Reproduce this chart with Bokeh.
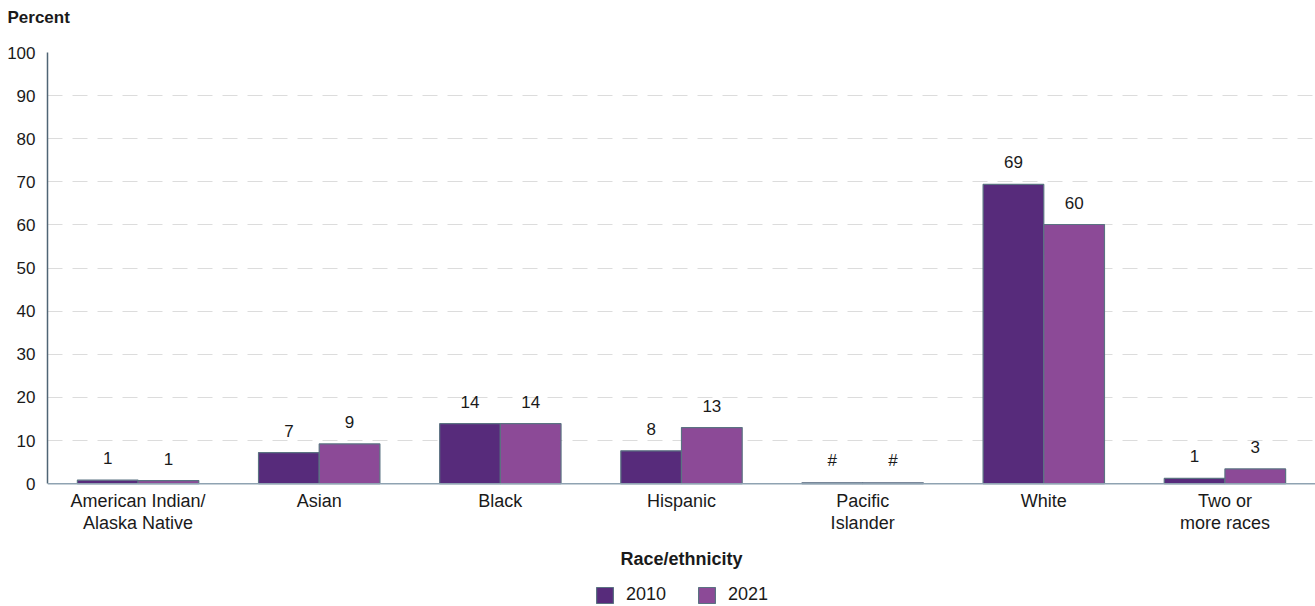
from bokeh.plotting import figure
from bokeh.models import (ColumnDataSource, FixedTicker, Legend, LegendItem, Title,
                          Span, Label)
from bokeh.core.properties import value
from bokeh.embed import file_html
from bokeh.resources import INLINE

categories = ["American Indian/\nAlaska Native", "Asian", "Black", "Hispanic",
              "Pacific\nIslander", "White", "Two or\nmore races"]
values_2010 = [0.8, 7.2, 13.9, 7.6, 0.2, 69.4, 1.2]
values_2021 = [0.7, 9.2, 13.9, 13.0, 0.2, 60.1, 3.4]
labels_2010 = ["1", "7", "14", "8", "#", "69", "1"]
labels_2021 = ["1", "9", "14", "13", "#", "60", "3"]
series_names = ["2010", "2021"]
y_ticks = [0, 10, 20, 30, 40, 50, 60, 70, 80, 90, 100]
x_title = "Race/ethnicity"
y_title = "Percent"

FONT = "Liberation Sans"
C2010 = "#572b7b"
C2021 = "#8c4a97"
OUTLINE = "#5b7282"
TXT = "#1a1a1a"

p = figure(frame_width=1268, frame_height=554, x_range=(0, 7), y_range=(-28.5, 100),
           output_backend="svg", toolbar_location=None, x_axis_location=None,
           min_border_left=47, min_border_right=0, min_border_top=0,
           min_border_bottom=0)
p.outline_line_color = None
p.background_fill_color = "white"

p.title.text = y_title
p.title.align = "left"
p.title.offset = -40
p.title.text_font = FONT
p.title.text_font_style = "bold"
p.title.text_font_size = "17px"
p.title.text_color = TXT
p.add_layout(Title(text=" ", text_font_size="8px"), "above")

centers = [i + 0.5 for i in range(len(categories))]
bw = 0.335
src = ColumnDataSource(dict(
    x10=[c - bw / 2 for c in centers], x21=[c + bw / 2 for c in centers],
    v10=values_2010, v21=values_2021, l10=labels_2010, l21=labels_2021))

r10 = p.vbar(x="x10", top="v10", width=bw, source=src, fill_color=C2010,
             line_color=OUTLINE, line_width=1.2)
r21 = p.vbar(x="x21", top="v21", width=bw, source=src, fill_color=C2021,
             line_color=OUTLINE, line_width=1.2)

for xcol, vcol, lcol in [("x10", "v10", "l10"), ("x21", "v21", "l21")]:
    p.text(x=xcol, y=vcol, text=lcol, source=src, text_align="center",
           text_baseline="alphabetic", y_offset=-22, text_font_size="17px",
           text_color=TXT, text_font=value(FONT))

# category labels (x axis) drawn in the frame at y = 0
line1 = [c.split("\n")[0] for c in categories]
line2 = [c.split("\n")[1] if "\n" in c else "" for c in categories]
cat_src = ColumnDataSource(dict(x=centers, y=[0] * len(centers), t1=line1, t2=line2))
p.text(x="x", y="y", text="t1", source=cat_src, text_align="center",
       text_baseline="middle", y_offset=17, text_font_size="18px",
       text_color=TXT, text_font=value(FONT))
p.text(x="x", y="y", text="t2", source=cat_src, text_align="center",
       text_baseline="middle", y_offset=39, text_font_size="18px",
       text_color=TXT, text_font=value(FONT))

p.add_layout(Span(location=0, dimension="width", line_color="#8fa3b2",
                  line_width=1.5))

p.add_layout(Label(x=3.5, y=0, y_offset=-75, text=x_title, text_font=FONT,
                   text_font_style="bold", text_font_size="18px", text_color=TXT,
                   text_align="center", text_baseline="middle"))

p.yaxis.ticker = FixedTicker(ticks=y_ticks)
p.yaxis.bounds = (0, 100)
p.yaxis.major_tick_line_color = None
p.yaxis.minor_tick_line_color = None
p.yaxis.axis_line_color = "#4f6575"
p.yaxis.axis_line_width = 1.5
p.yaxis.major_label_text_font = FONT
p.yaxis.major_label_text_font_size = "17px"
p.yaxis.major_label_text_color = TXT
p.yaxis.major_label_standoff = 6

p.xgrid.grid_line_color = None
p.ygrid.grid_line_color = "#dcdcdc"
p.ygrid.grid_line_dash = "15 10"
p.ygrid.grid_line_width = 1

legend = Legend(items=[LegendItem(label=series_names[0], renderers=[r10]),
                       LegendItem(label=series_names[1], renderers=[r21])],
                orientation="horizontal", location=(547, 1),
                label_text_font=FONT, label_text_font_size="18px",
                label_text_color=TXT, glyph_width=21, glyph_height=20,
                label_height=20, spacing=30, border_line_color=None,
                background_fill_alpha=0, padding=0, margin=0, label_standoff=11)
p.add_layout(legend, "center")

open("out.html", "w").write(file_html(p, INLINE))
